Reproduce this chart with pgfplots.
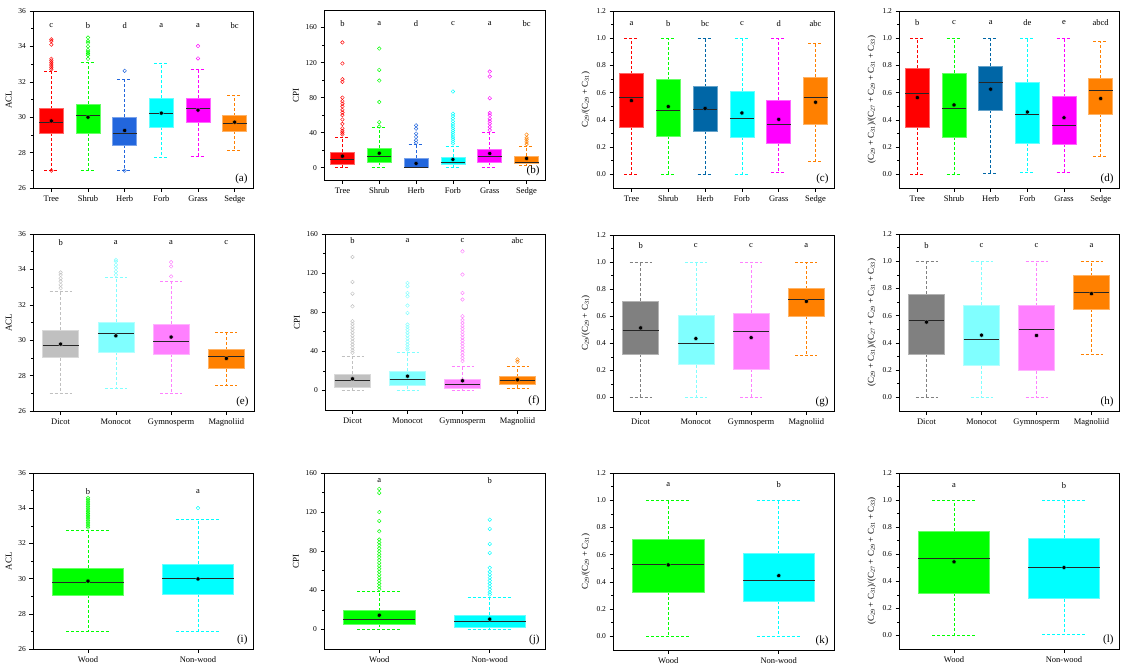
\documentclass[border=0pt]{standalone}
\usepackage{fontspec}
\setmainfont{Liberation Serif}
\usepackage{pgfplots}
\pgfplotsset{compat=1.18}
\usepgfplotslibrary{statistics}

\definecolor{cTree}{HTML}{FF0000}
\definecolor{cShrub}{HTML}{00FF00}
\definecolor{cHerbA}{HTML}{2266DD}
\definecolor{cHerbC}{HTML}{0066A6}
\definecolor{cForb}{HTML}{00FFFF}
\definecolor{cGrass}{HTML}{FF00FF}
\definecolor{cSedge}{HTML}{FF8000}
\definecolor{cDicotL}{HTML}{C0C0C0}
\definecolor{cDicotD}{HTML}{808080}
\definecolor{cMono}{HTML}{80FFFF}
\definecolor{cGymno}{HTML}{FF80FF}
\definecolor{cMagn}{HTML}{FF8000}

\pgfplotsset{
  panel/.style={
    scale only axis,
    axis line style={black, line width=0.6pt},
    tick align=outside,
    xtick pos=bottom, ytick pos=left,
    minor y tick num=1,
    major tick length=3.5pt, minor tick length=2pt,
    every tick/.style={black, line width=0.6pt},
    tick label style={font=\fontsize{7.5}{9}\selectfont},
    xticklabel style={font=\fontsize{8.5}{10}\selectfont, yshift=-1pt},
    ylabel style={font=\fontsize{9}{11}\selectfont},
    /pgf/number format/assume math mode=true,
    boxplot/draw direction=y,
    xmin=0.5, clip=false,
  },
  six/.style={xmax=6.5, xtick={1,...,6}, xticklabels={Tree,Shrub,Herb,Forb,Grass,Sedge}},
  four/.style={xmax=4.5, xtick={1,...,4}, xticklabels={Dicot,Monocot,Gymnosperm,Magnoliid}},
  two/.style={xmax=2.5, xtick={1,2}, xticklabels={Wood,Non-wood}},
  acl/.style={ymin=26, ymax=36, ytick={26,28,30,32,34,36}, ylabel={ACL}},
  cpi/.style={ymin=-20, ymax=160, ytick={0,40,80,120,160}, ylabel={CPI}},
  ratio/.style={ymin=-0.1, ymax=1.2, ytick={0,0.2,0.4,0.6,0.8,1.0,1.2},
    yticklabel style={/pgf/number format/.cd, fixed, fixed zerofill, precision=1}},
  bx/.style={draw=#1, mark=o, mark size=1.8pt,
    mark options={solid, draw=#1, fill=none, line width=0.45pt},
    boxplot/box extend=0.65, boxplot/whisker extend=0.4,
    boxplot/every box/.style={fill=#1, draw=#1!60!white, line width=0.6pt, solid},
    boxplot/every whisker/.style={draw=#1, line width=0.7pt, dash pattern=on 3pt off 2pt},
    boxplot/every median/.style={draw=black!85, line width=0.9pt, solid},
    boxplot/every average/.style={/tikz/mark=*, /tikz/mark size=2.1pt, draw=black, fill=black, solid},
  },
}

% one box: colour, position, lower whisker, Q1, median, Q3, upper whisker, mean
\newcommand\bp[8]{\addplot[bx=#1, boxplot prepared={draw position=#2,
  lower whisker=#3, lower quartile=#4, median=#5, upper quartile=#6,
  upper whisker=#7, average=#8}]}
\newcommand\grp[2]{\node[font=\fontsize{8.5}{10}\selectfont] at (axis cs:#1) {#2};}
\newcommand\tag[1]{\node[anchor=south east, font=\fontsize{11}{12}\selectfont, xshift=-2pt, yshift=1pt] at (rel axis cs:1,0) {#1};}
\newcommand\ca{C\textsubscript{29}/(C\textsubscript{29} + C\textsubscript{31})}
\newcommand\cb{(C\textsubscript{29} + C\textsubscript{31})/(C\textsubscript{27} + C\textsubscript{29} + C\textsubscript{31} + C\textsubscript{33})}

\begin{document}
\begin{tikzpicture}
\path[use as bounding box] (0,0) rectangle (1121pt,-670pt);

% ---------------- (a) ACL by growth form
\begin{axis}[panel, six, acl, at={(33pt,-188pt)}, anchor=south west, width=220pt, height=177pt]
\bp{cTree}{1}{27.0}{29.08}{29.68}{30.49}{32.57}{29.79} table[row sep=\\, y index=0]{v\\26.98\\32.7\\32.8\\32.9\\33.0\\33.1\\33.2\\33.3\\34.1\\34.3\\34.4\\};
\bp{cShrub}{2}{27.0}{29.11}{30.08}{30.72}{33.09}{30.0} table[row sep=\\, y index=0]{v\\33.3\\33.5\\33.6\\33.7\\33.8\\34.0\\34.2\\34.3\\34.5\\};
\bp{cHerbA}{3}{27.0}{28.42}{29.06}{30.02}{32.13}{29.25} table[row sep=\\, y index=0]{v\\26.98\\32.62\\};
\bp{cForb}{4}{27.75}{29.42}{30.21}{31.06}{33.04}{30.23} coordinates {};
\bp{cGrass}{5}{27.79}{29.70}{30.51}{31.06}{32.70}{30.40} table[row sep=\\, y index=0]{v\\33.32\\34.02\\};
\bp{cSedge}{6}{28.13}{29.21}{29.62}{30.08}{31.21}{29.72} coordinates {};
\grp{1,35.2}{c}\grp{2,35.2}{b}\grp{3,35.2}{d}\grp{4,35.2}{a}\grp{5,35.2}{a}\grp{6,35.2}{bc}
\tag{(a)}
\end{axis}

% ---------------- (b) CPI by growth form
\begin{axis}[panel, six, cpi, ymin=-14, ymax=180, at={(324pt,-180pt)}, anchor=south west, width=221pt, height=170pt]
\bp{cTree}{1}{0}{4.2}{9.5}{17.4}{35.2}{13.2} table[row sep=\\, y index=0]{v\\38\\40\\42\\45\\50\\55\\60\\63\\66\\70\\73\\76\\80\\98\\101\\119\\143\\};
\bp{cShrub}{2}{0}{6.1}{13.2}{22.3}{46.5}{16.6} table[row sep=\\, y index=0]{v\\47\\52\\75\\99.5\\111.6\\136\\};
\bp{cHerbA}{3}{0}{0}{0}{10.6}{26.5}{4.9} table[row sep=\\, y index=0]{v\\28.5\\31.4\\35.2\\39\\44.6\\48.4\\};
\bp{cForb}{4}{0}{4.2}{6.1}{11.7}{24.6}{9.5} table[row sep=\\, y index=0]{v\\27.6\\30\\32.5\\35\\37.5\\40\\42.5\\45\\47.5\\50\\53\\56\\59\\61.6\\87\\};
\bp{cGrass}{5}{0}{6.4}{13.2}{20.8}{40.8}{16.3} table[row sep=\\, y index=0]{v\\43\\46.5\\50.3\\53\\56\\59.8\\62.4\\79.4\\104\\109.7\\};
\bp{cSedge}{6}{2.3}{5.3}{6.1}{13.6}{24.6}{10.6} table[row sep=\\, y index=0]{v\\27\\29.5\\32\\34\\37.8\\};
\grp{1,164.5}{b}\grp{2,164.5}{a}\grp{3,164.5}{d}\grp{4,164.5}{c}\grp{5,164.5}{a}\grp{6,164.5}{bc}
\tag{(b)}
\end{axis}

% ---------------- (c)
\begin{axis}[panel, six, ratio, ylabel={\ca}, at={(613pt,-188pt)}, anchor=south west, width=221pt, height=177pt]
\bp{cTree}{1}{0}{0.345}{0.562}{0.739}{1.0}{0.542} coordinates {};
\bp{cShrub}{2}{0}{0.281}{0.473}{0.695}{1.0}{0.498} coordinates {};
\bp{cHerbC}{3}{0}{0.32}{0.48}{0.645}{1.0}{0.485} coordinates {};
\bp{cForb}{4}{0}{0.273}{0.414}{0.613}{1.0}{0.451} coordinates {};
\bp{cGrass}{5}{0.017}{0.227}{0.365}{0.547}{1.0}{0.404} coordinates {};
\bp{cSedge}{6}{0.096}{0.369}{0.562}{0.714}{0.966}{0.530} coordinates {};
\grp{1,1.108}{a}\grp{2,1.108}{b}\grp{3,1.108}{bc}\grp{4,1.108}{c}\grp{5,1.108}{d}\grp{6,1.108}{abc}
\tag{(c)}
\end{axis}

% ---------------- (d)
\begin{axis}[panel, six, ratio, ylabel={\cb}, at={(899pt,-188pt)}, anchor=south west, width=220pt, height=177pt]
\bp{cTree}{1}{0}{0.345}{0.596}{0.778}{1.0}{0.564} coordinates {};
\bp{cShrub}{2}{0}{0.276}{0.483}{0.744}{1.0}{0.51} coordinates {};
\bp{cHerbC}{3}{0.01}{0.473}{0.677}{0.793}{1.0}{0.626} coordinates {};
\bp{cForb}{4}{0.015}{0.227}{0.441}{0.677}{1.0}{0.458} coordinates {};
\bp{cGrass}{5}{0.015}{0.222}{0.36}{0.571}{1.0}{0.416} coordinates {};
\bp{cSedge}{6}{0.133}{0.443}{0.618}{0.709}{0.98}{0.557} coordinates {};
\grp{1,1.118}{b}\grp{2,1.118}{c}\grp{3,1.118}{a}\grp{4,1.118}{de}\grp{5,1.118}{e}\grp{6,1.118}{abcd}
\tag{(d)}
\end{axis}

% ---------------- (e) ACL by clade
\begin{axis}[panel, four, acl, at={(33pt,-411pt)}, anchor=south west, width=221pt, height=177pt]
\bp{cDicotL}{1}{26.98}{29.02}{29.72}{30.57}{32.75}{29.78} table[row sep=\\, y index=0]{v\\32.94\\33.13\\33.32\\33.5\\33.69\\33.83\\};
\bp{cMono}{2}{27.27}{29.31}{30.39}{31.01}{33.56}{30.25} table[row sep=\\, y index=0]{v\\33.69\\33.88\\34.07\\34.26\\34.45\\34.54\\};
\bp{cGymno}{3}{26.98}{29.21}{29.93}{30.9}{33.35}{30.18} table[row sep=\\, y index=0]{v\\33.6\\34.17\\34.41\\};
\bp{cMagn}{4}{27.44}{28.4}{29.08}{29.46}{30.42}{28.97} coordinates {};
\grp{1,35.5}{b}\grp{2,35.5}{a}\grp{3,35.5}{a}\grp{4,35.5}{c}
\tag{(e)}
\end{axis}

% ---------------- (f) CPI by clade
\begin{axis}[panel, four, cpi, at={(325pt,-410pt)}, anchor=south west, width=220pt, height=176pt]
\bp{cDicotL}{1}{0}{3.7}{9.9}{17.0}{35.1}{11.9} table[row sep=\\, y index=0]{v\\38.5\\41\\44\\47\\50\\53\\56\\59\\62\\65\\68\\70.8\\86\\99\\111\\136.5\\};
\bp{cMono}{2}{0}{4.8}{11.2}{19.4}{39.1}{14.6} table[row sep=\\, y index=0]{v\\41.9\\44\\47\\50\\53\\56\\59\\62\\65\\67.4\\79.3\\86.8\\96.3\\99.7\\106.6\\110\\};
\bp{cGymno}{3}{0}{2.0}{5.8}{11.2}{24.9}{9.9} table[row sep=\\, y index=0]{v\\30\\33\\36\\39\\42\\45\\48\\51\\54\\57\\60\\63\\66\\69\\72\\76\\93\\99.7\\118.5\\142.3\\};
\bp{cMagn}{4}{2.0}{5.8}{9.9}{14.0}{24.9}{10.9} table[row sep=\\, y index=0]{v\\29.3\\31.7\\};
\grp{1,153.5}{b}\grp{2,153.5}{a}\grp{3,153.5}{c}\grp{4,153.5}{abc}
\tag{(f)}
\end{axis}

% ---------------- (g)
\begin{axis}[panel, four, ratio, ylabel={\ca}, at={(613pt,-411pt)}, anchor=south west, width=221pt, height=176pt]
\bp{cDicotD}{1}{0}{0.319}{0.496}{0.71}{1.0}{0.514} coordinates {};
\bp{cMono}{2}{0}{0.243}{0.398}{0.604}{1.0}{0.435} coordinates {};
\bp{cGymno}{3}{0}{0.209}{0.489}{0.624}{1.0}{0.442} coordinates {};
\bp{cMagn}{4}{0.312}{0.6}{0.722}{0.803}{1.0}{0.71} coordinates {};
\grp{1,1.123}{b}\grp{2,1.123}{c}\grp{3,1.123}{c}\grp{4,1.123}{a}
\tag{(g)}
\end{axis}

% ---------------- (h)
\begin{axis}[panel, four, ratio, ylabel={\cb}, at={(899pt,-411pt)}, anchor=south west, width=220pt, height=177pt]
\bp{cDicotD}{1}{0}{0.319}{0.565}{0.759}{1.0}{0.553} coordinates {};
\bp{cMono}{2}{0}{0.233}{0.423}{0.678}{1.0}{0.457} coordinates {};
\bp{cGymno}{3}{0}{0.197}{0.501}{0.673}{1.0}{0.455} coordinates {};
\bp{cMagn}{4}{0.314}{0.649}{0.774}{0.894}{1.0}{0.762} coordinates {};
\grp{1,1.118}{b}\grp{2,1.118}{c}\grp{3,1.118}{c}\grp{4,1.118}{a}
\tag{(h)}
\end{axis}

% ---------------- (i) ACL by wood
\begin{axis}[panel, two, acl, at={(33pt,-649pt)}, anchor=south west, width=220pt, height=176pt]
\bp{cShrub}{1}{26.98}{29.07}{29.77}{30.58}{32.76}{29.86} table[row sep=\\, y index=0]{v\\32.9\\33.0\\33.1\\33.2\\33.3\\33.4\\33.5\\33.6\\33.7\\33.8\\33.9\\34.0\\34.1\\34.2\\34.3\\34.4\\34.5\\34.6\\};
\bp{cForb}{2}{26.98}{29.13}{30.0}{30.83}{33.35}{29.98} table[row sep=\\, y index=0]{v\\34.01\\};
\grp{1,34.96}{b}\grp{2,34.96}{a}
\tag{(i)}
\end{axis}

% ---------------- (j) CPI by wood
\begin{axis}[panel, two, cpi, at={(324pt,-649pt)}, anchor=south west, width=221pt, height=176pt]
\bp{cShrub}{1}{0}{5.4}{10.6}{19.1}{39.1}{14.6} table[row sep=\\, y index=0]{v\\41\\44\\47\\50\\53\\56\\59\\62\\65\\68\\71\\74\\77\\80\\83\\86\\89\\92\\100.4\\111\\120\\139.6\\143.7\\};
\bp{cForb}{2}{0}{2.7}{7.8}{14.3}{33}{10.6} table[row sep=\\, y index=0]{v\\35.7\\38\\41\\44\\47\\50\\53\\56\\59\\63\\78.3\\87.5\\102.8\\112.3\\};
\grp{1,152}{a}\grp{2,152}{b}
\tag{(j)}
\end{axis}

% ---------------- (k)
\begin{axis}[panel, two, ratio, ylabel={\ca}, at={(613pt,-650pt)}, anchor=south west, width=221pt, height=177pt]
\bp{cShrub}{1}{0}{0.325}{0.53}{0.714}{1.0}{0.525} coordinates {};
\bp{cForb}{2}{0}{0.261}{0.409}{0.608}{1.0}{0.446} coordinates {};
\grp{1,1.116}{a}\grp{2,1.116}{b}
\tag{(k)}
\end{axis}

% ---------------- (l)
\begin{axis}[panel, two, ratio, ylabel={\cb}, at={(899pt,-649pt)}, anchor=south west, width=220pt, height=176pt]
\bp{cShrub}{1}{0}{0.311}{0.571}{0.772}{1.0}{0.544} coordinates {};
\bp{cForb}{2}{0.01}{0.272}{0.505}{0.718}{1.0}{0.502} coordinates {};
\grp{1,1.11}{a}\grp{2,1.11}{b}
\tag{(l)}
\end{axis}
\end{tikzpicture}
\end{document}
